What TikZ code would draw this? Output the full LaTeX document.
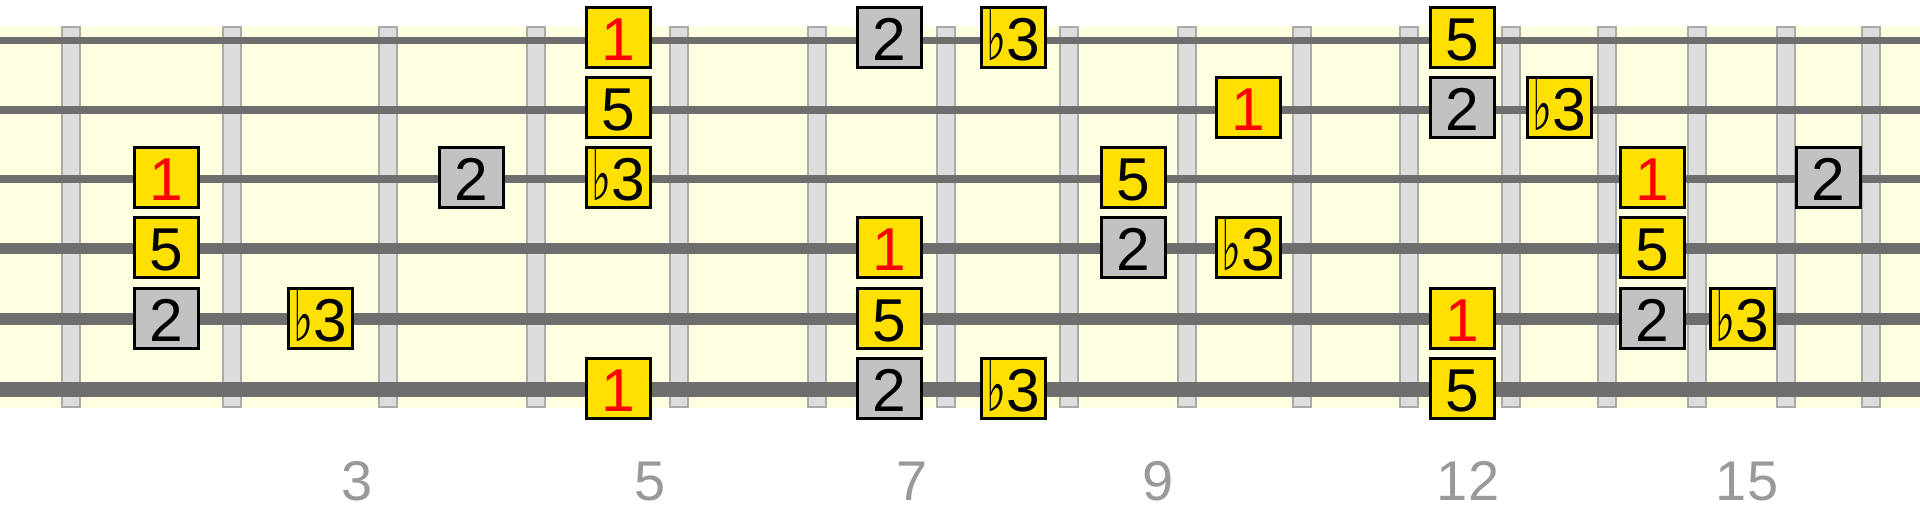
\documentclass[tikz,border=0pt]{standalone}
\usepackage{graphicx}
\usepackage{fontspec}
\setmainfont{Liberation Sans}
\newfontfamily\flatfont{DejaVu Sans}
\newcommand{\flt}{\scalebox{0.7}[1.2]{\flatfont\char"266D}}
\definecolor{boardbg}{HTML}{FFFFE2}
\definecolor{fretfill}{HTML}{DDDDDD}
\definecolor{fretdraw}{HTML}{AAAAAA}
\definecolor{strcol}{HTML}{6E6E6E}
\definecolor{noteyel}{HTML}{FFE000}
\definecolor{notegray}{HTML}{C2C2C2}
\definecolor{rootred}{HTML}{FF0000}
\definecolor{labgray}{HTML}{999999}
\begin{document}
\begin{tikzpicture}[x=1pt,y=-1pt,
  fretbar/.style={fill=fretfill,draw=fretdraw,line width=2pt},
  strline/.style={draw=strcol,line cap=butt},
  notebox/.style={draw=black,line width=3pt,fill=noteyel,minimum width=64pt,minimum height=60pt,inner sep=0pt,font=\fontsize{60.5}{60}\selectfont,text height=46pt,text depth=0pt},
  rootnote/.style={notebox,text=rootred},
  secnote/.style={notebox,fill=notegray},
  fretlab/.style={anchor=base,text=labgray,inner sep=0pt,font=\fontsize{56}{56}\selectfont}]
\useasboundingbox (0,0) rectangle (1920,511);
% board
\fill[boardbg] (0,26) rectangle (1920,407.5);
% frets
\foreach \fx in {71.3,232.3,388,536,679.3,817,945.7,1068.7,1187.3,1302.3,1409.3,1510.7,1606.7,1697.3,1786,1870.7}
  \draw[fretbar] (\fx-9,27.5) rectangle (\fx+9,406.5);
% strings
\foreach \sy/\sw in {40.7/6.8,110/7.8,179/8.8,248.7/10.6,319/12.6,389.3/14.6}
  \draw[strline,line width=\sw pt] (0,\sy) -- (1920,\sy);
% string 1
\node[rootnote] (n1a) at (618,37.8) {1};
\node[secnote]  (n1b) at (889,37.8) {2};
\node[notebox]  (n1c) at (1013,37.8) {\flt3};
\node[notebox]  (n1d) at (1462,37.8) {5};
% string 2
\node[notebox]  (n2a) at (618,107.8) {5};
\node[rootnote] (n2b) at (1248,107.8) {1};
\node[secnote]  (n2c) at (1462,107.8) {2};
\node[notebox]  (n2d) at (1559,107.8) {\flt3};
% string 3
\node[rootnote] (n3a) at (166,177.9) {1};
\node[secnote]  (n3b) at (471,177.9) {2};
\node[notebox]  (n3c) at (618,177.9) {\flt3};
\node[notebox]  (n3d) at (1133,177.9) {5};
\node[rootnote] (n3e) at (1652,177.9) {1};
\node[secnote]  (n3f) at (1828,177.9) {2};
% string 4
\node[notebox]  (n4a) at (166,247.9) {5};
\node[rootnote] (n4b) at (889,247.9) {1};
\node[secnote]  (n4c) at (1133,247.9) {2};
\node[notebox]  (n4d) at (1248,247.9) {\flt3};
\node[notebox]  (n4e) at (1652,247.9) {5};
% string 5
\node[secnote]  (n5a) at (166,318) {2};
\node[notebox]  (n5b) at (320.7,318) {\flt3};
\node[notebox]  (n5c) at (889,318) {5};
\node[rootnote] (n5d) at (1462,318) {1};
\node[secnote]  (n5e) at (1652,318) {2};
\node[notebox]  (n5f) at (1742,318) {\flt3};
% string 6
\node[rootnote] (n6a) at (618,388) {1};
\node[secnote]  (n6b) at (889,388) {2};
\node[notebox]  (n6c) at (1013,388) {\flt3};
\node[notebox]  (n6d) at (1462,388) {5};
% fret numbers
\node[fretlab] (f3)  at (357,500.7) {3};
\node[fretlab] (f5)  at (650,500.7) {5};
\node[fretlab] (f7)  at (912,500.7) {7};
\node[fretlab] (f9)  at (1158,500.7) {9};
\node[fretlab] (f12) at (1468,500.7) {12};
\node[fretlab] (f15) at (1747,500.7) {15};
\end{tikzpicture}
\end{document}
